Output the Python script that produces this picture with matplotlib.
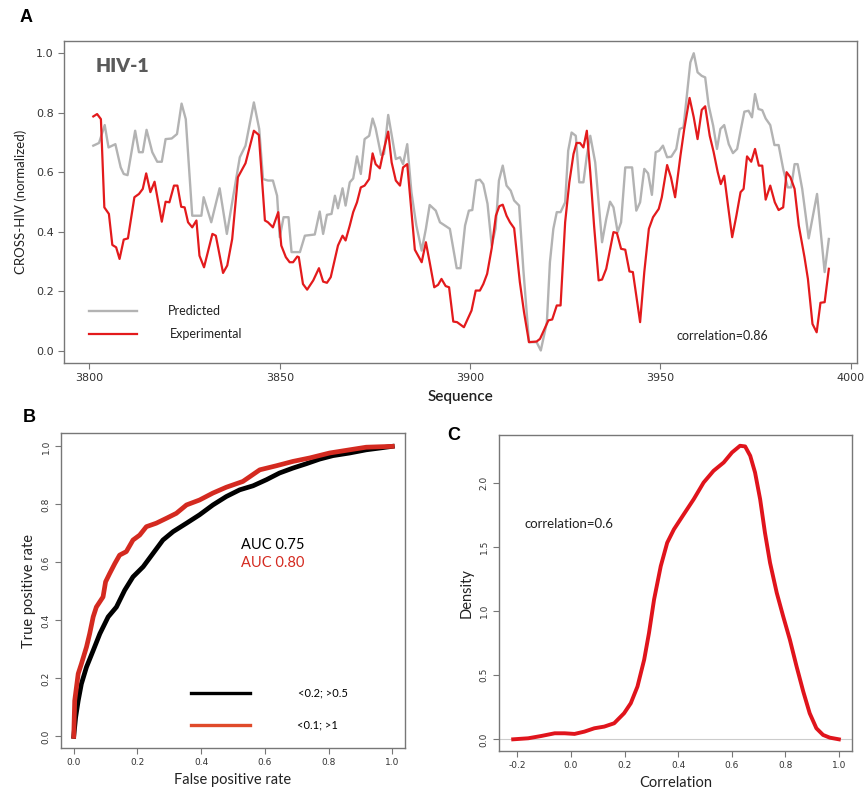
import numpy as np
import matplotlib
matplotlib.use("Agg")
import matplotlib.pyplot as plt

# ---- panel A: CROSS-HIV profile (vertices)
pred_x = [3801, 3802.5, 3804, 3805, 3806.8, 3808.2, 3809, 3810, 3812, 3813, 3814, 3815, 3816.5, 3817.8,
          3819, 3820, 3821.6, 3823, 3824.2, 3825.3, 3827, 3829.4, 3830, 3832, 3834.2, 3836.1, 3839.5,
          3841, 3843.2, 3844.6, 3845.6, 3846.9, 3848.2, 3849.3, 3850, 3851, 3852.3, 3853.1, 3855.3,
          3856.6, 3859.2, 3860.5, 3861.4, 3862.4, 3863.6, 3864.5, 3865.3, 3866.5, 3867.3, 3868.4,
          3869.3, 3870.3, 3871.3, 3872.3, 3873.5, 3874.4, 3875.2, 3876.6, 3877.4, 3878.5, 3879.4,
          3880.5, 3881.6, 3882.4, 3883.5, 3884.6, 3885.9, 3887.3, 3888.4, 3889.4, 3891, 3892.1,
          3893.4, 3894.7, 3896.5, 3897.5, 3898.7, 3899.7, 3900.6, 3901.6, 3902.6, 3903.5, 3904.6,
          3905.7, 3906.7, 3907.6, 3908.6, 3909.6, 3910.7, 3911.6, 3912.9, 3914, 3915.5, 3917.5,
          3918.6, 3920.2, 3921, 3921.9, 3922.8, 3923.8, 3925, 3925.8, 3926.7, 3927.8, 3928.7,
          3929.8, 3930.7, 3931.6, 3932.9, 3934.7, 3935.8, 3936.8, 3937.7, 3938.8, 3939.7, 3940.8,
          3942.6, 3943.7, 3944.7, 3945.8, 3946.8, 3947.8, 3948.8, 3949.7, 3950.7, 3951.8, 3952.9,
          3954.2, 3955.1, 3956.1, 3957.2, 3957.9, 3958.8, 3959.8, 3960.9, 3961.8, 3962.7, 3963.9,
          3964.9, 3965.8, 3966.8, 3968, 3969.1, 3970.2, 3971.2, 3972.1, 3973.2, 3974.1, 3974.9,
          3975.8, 3976.8, 3977.7, 3978.9, 3980, 3981.1, 3982.3, 3983.5, 3984.4, 3985.3, 3986.1,
          3987.3, 3989, 3991.2, 3993.2, 3994.3]
pred_y = [0.689, 0.698, 0.758, 0.683, 0.694, 0.616, 0.594, 0.59, 0.739, 0.667, 0.667, 0.742, 0.667, 0.635,
          0.635, 0.711, 0.713, 0.728, 0.830, 0.778, 0.454, 0.454, 0.516, 0.432, 0.546, 0.393, 0.650,
          0.689, 0.834, 0.745, 0.577, 0.572, 0.572, 0.521, 0.382, 0.449, 0.449, 0.332, 0.332,
          0.387, 0.391, 0.468, 0.393, 0.457, 0.46, 0.521, 0.479, 0.546, 0.488, 0.566,
          0.579, 0.653, 0.594, 0.711, 0.722, 0.780, 0.747, 0.658, 0.661, 0.792, 0.725,
          0.644, 0.650, 0.627, 0.694, 0.533, 0.421, 0.337, 0.410, 0.490, 0.471, 0.432,
          0.421, 0.410, 0.278, 0.278, 0.421, 0.471, 0.473, 0.572, 0.575, 0.560, 0.494,
          0.354, 0.410, 0.572, 0.622, 0.555, 0.538, 0.505, 0.488, 0.276, 0.030, 0.030,
          0.002, 0.097, 0.298, 0.410, 0.466, 0.466, 0.499, 0.672, 0.733, 0.722, 0.566,
          0.566, 0.655, 0.722, 0.633, 0.365, 0.443, 0.501, 0.482, 0.399, 0.432, 0.616,
          0.616, 0.471, 0.499, 0.611, 0.596, 0.524, 0.667, 0.672, 0.689, 0.650, 0.652,
          0.678, 0.745, 0.750, 0.884, 0.968, 0.999, 0.935, 0.923, 0.918, 0.825, 0.756,
          0.678, 0.745, 0.758, 0.694, 0.664, 0.678, 0.745, 0.803, 0.806, 0.784, 0.862,
          0.812, 0.808, 0.780, 0.758, 0.691, 0.691, 0.611, 0.549, 0.549, 0.627, 0.627,
          0.544, 0.378, 0.527, 0.265, 0.376]

exp_x = [3801, 3802, 3803, 3803.9, 3805.1, 3806, 3807, 3807.9, 3809, 3810.1, 3811.8, 3813, 3814, 3814.9,
         3816, 3817.1, 3819, 3820, 3821, 3822.2, 3823.1, 3824.1, 3825, 3825.9, 3827, 3828.1, 3828.9,
         3830.1, 3832.3, 3833.2, 3835.1, 3836.2, 3837.5, 3839, 3841, 3843.2, 3844.5, 3846.1, 3846.9,
         3848.2, 3849.6, 3850.4, 3851.6, 3852.6, 3853.5, 3854.6, 3855, 3856.1, 3857.2, 3858.8,
         3860.3, 3861.4, 3862.4, 3863.4, 3864.4, 3865.3, 3866.5, 3867.3, 3868.4, 3869.3, 3870.3,
         3871.3, 3872.3, 3873.5, 3874.4, 3875.2, 3876.3, 3877.2, 3878.5, 3879.4, 3880.5, 3881.6,
         3882.4, 3883.5, 3885.5, 3887.3, 3888.4, 3889.4, 3890.6, 3891.6, 3892.5, 3893.6, 3894.5,
         3895.6, 3896.6, 3898.4, 3900.4, 3901.5, 3902.6, 3903.5, 3904.5, 3905.7, 3906.8, 3907.7,
         3908.6, 3909.6, 3910.5, 3911.6, 3913.1, 3914.2, 3915.5, 3917.5, 3918.4, 3919.4, 3920.6,
         3921.6, 3922.8, 3923.8, 3925, 3926.1, 3927.2, 3928, 3928.9, 3929.8, 3930.7, 3931.6,
         3932.6, 3933.8, 3934.7, 3935.8, 3937.7, 3938.6, 3939.7, 3940.8, 3941.9, 3942.8, 3944.7,
         3945.8, 3947, 3948.1, 3949.6, 3950.4, 3951.8, 3952.8, 3953.9, 3955.3, 3956.3, 3957.7,
         3958.8, 3959.8, 3960.9, 3961.8, 3963, 3964, 3965.1, 3965.9, 3966.8, 3967.8, 3968.9,
         3970, 3971.1, 3971.9, 3972.8, 3973.9, 3974.9, 3975.9, 3976.8, 3977.7, 3978.9, 3980.1,
         3981.1, 3982.3, 3983.2, 3984.2, 3985.3, 3986.4, 3987.9, 3988.8, 3990, 3991.1, 3992.1,
         3993.2, 3994.3]
exp_y = [0.787, 0.795, 0.778, 0.482, 0.46, 0.356, 0.348, 0.309, 0.374, 0.378, 0.516, 0.527, 0.544, 0.596,
         0.533, 0.568, 0.434, 0.501, 0.499, 0.555, 0.555, 0.484, 0.482, 0.432, 0.415, 0.438, 0.320,
         0.281, 0.393, 0.387, 0.262, 0.287, 0.376, 0.583, 0.630, 0.739, 0.725, 0.438, 0.432,
         0.415, 0.466, 0.354, 0.315, 0.298, 0.298, 0.317, 0.315, 0.225, 0.206, 0.237,
         0.278, 0.233, 0.229, 0.248, 0.304, 0.354, 0.387, 0.371, 0.421, 0.466, 0.499,
         0.549, 0.555, 0.577, 0.663, 0.627, 0.613, 0.667, 0.736, 0.633, 0.572, 0.555,
         0.616, 0.627, 0.340, 0.298, 0.365, 0.298, 0.214, 0.222, 0.242, 0.218, 0.214,
         0.099, 0.097, 0.080, 0.136, 0.203, 0.203, 0.225, 0.259, 0.345, 0.454, 0.486,
         0.491, 0.454, 0.432, 0.412, 0.231, 0.130, 0.030, 0.032, 0.041, 0.069, 0.103,
         0.106, 0.153, 0.153, 0.432, 0.566, 0.661, 0.698, 0.698, 0.683, 0.739, 0.600,
         0.421, 0.237, 0.240, 0.276, 0.399, 0.396, 0.343, 0.340, 0.267, 0.265, 0.097,
         0.265, 0.410, 0.449, 0.477, 0.516, 0.624, 0.583, 0.516, 0.655, 0.745, 0.849,
         0.784, 0.711, 0.809, 0.821, 0.722, 0.669, 0.600, 0.560, 0.588, 0.488, 0.382,
         0.454, 0.533, 0.544, 0.653, 0.635, 0.678, 0.622, 0.622, 0.508, 0.555, 0.499,
         0.473, 0.482, 0.600, 0.583, 0.544, 0.421, 0.315, 0.242, 0.091, 0.063, 0.162,
         0.164, 0.276]

# ---- panel B: ROC curves
roc1_fpr = [0, 0.006, 0.014, 0.024, 0.040, 0.061, 0.082, 0.108, 0.134, 0.160, 0.186, 0.218, 0.249, 0.280,
            0.312, 0.354, 0.395, 0.437, 0.479, 0.521, 0.563, 0.605, 0.646, 0.688, 0.730, 0.772, 0.814,
            0.866, 0.918, 0.960, 1.0]
roc1_tpr = [0, 0.066, 0.123, 0.181, 0.239, 0.296, 0.354, 0.412, 0.446, 0.504, 0.550, 0.585, 0.631, 0.677,
            0.706, 0.735, 0.764, 0.798, 0.827, 0.850, 0.864, 0.885, 0.908, 0.925, 0.940, 0.956, 0.968,
            0.977, 0.988, 0.994, 1.0]
roc2_fpr = [0, 0.003, 0.014, 0.024, 0.040, 0.050, 0.061, 0.071, 0.092, 0.100, 0.113, 0.129, 0.144, 0.165,
            0.186, 0.207, 0.228, 0.259, 0.291, 0.322, 0.354, 0.395, 0.437, 0.479, 0.531, 0.584, 0.636,
            0.688, 0.741, 0.803, 0.866, 0.918, 1.0]
roc2_tpr = [0, 0.123, 0.216, 0.250, 0.308, 0.354, 0.412, 0.446, 0.481, 0.533, 0.562, 0.596, 0.625, 0.637,
            0.677, 0.694, 0.723, 0.735, 0.752, 0.769, 0.798, 0.815, 0.839, 0.859, 0.879, 0.919, 0.933,
            0.948, 0.960, 0.977, 0.988, 0.997, 1.0]
roc_labels = ["<0.2; >0.5", "<0.1; >1"]
auc_labels = ["AUC 0.75", "AUC 0.80"]

# ---- panel C: density of correlations
dens_x = [-0.216, -0.160, -0.111, -0.061, -0.024, 0.013, 0.05, 0.087, 0.124, 0.161, 0.198, 0.223, 0.248,
          0.273, 0.291, 0.310, 0.335, 0.359, 0.384, 0.421, 0.458, 0.495, 0.532, 0.570, 0.601, 0.631,
          0.650, 0.669, 0.687, 0.706, 0.724, 0.743, 0.768, 0.792, 0.817, 0.842, 0.867, 0.891, 0.916,
          0.941, 0.966, 1.0]
dens_y = [0, 0.008, 0.026, 0.047, 0.047, 0.042, 0.06, 0.086, 0.099, 0.125, 0.203, 0.281, 0.411,
          0.620, 0.828, 1.089, 1.349, 1.531, 1.635, 1.753, 1.870, 2.0, 2.091, 2.156, 2.234, 2.286,
          2.281, 2.208, 2.078, 1.870, 1.609, 1.375, 1.141, 0.958, 0.776, 0.568, 0.372, 0.203, 0.086,
          0.034, 0.013, 0]

GREY = "#b3b3b3"
RED = "#e31a1c"
FRAME = "#777777"
TXT = ["Lato", "DejaVu Sans"]

W, H = 867, 799
fig = plt.figure(figsize=(W / 100, H / 100), dpi=100)


def box(l, t, r, b):
    return [l / W, 1 - b / H, (r - l) / W, (b - t) / H]


def style(ax, size):
    for s in ax.spines.values():
        s.set_color(FRAME)
        s.set_linewidth(1.0)
    ax.tick_params(direction="out", length=4, width=0.8, colors=FRAME, labelsize=size,
                   labelcolor="#333333")


# panel A
axA = fig.add_axes(box(64, 41, 857, 363))
axA.plot(pred_x, pred_y, color=GREY, lw=1.7, label="Predicted")
axA.plot(exp_x, exp_y, color=RED, lw=1.6, label="Experimental")
axA.set_xlim(3793.3, 4001.7)
axA.set_ylim(-0.04, 1.04)
axA.set_xticks(np.arange(3800, 4001, 50))
axA.set_yticks(np.arange(0, 1.01, 0.2))
axA.set_yticklabels(["0.0", "0.2", "0.4", "0.6", "0.8", "1.0"])
style(axA, 8)
axA.set_xlabel("Sequence", family=TXT, fontsize=11, fontweight="semibold", color="#222222", labelpad=5)
axA.set_ylabel("CROSS-HIV (normalized)", family=TXT, fontsize=9.5, color="#222222", labelpad=6)
axA.text(3801.5, 0.955, "HIV-1", family=TXT, fontsize=14, fontweight="heavy", color="#5a5a5a",
         va="center")
axA.plot([3800, 3812.5], [0.133, 0.133], color=GREY, lw=1.7)
axA.plot([3800, 3812.5], [0.058, 0.058], color=RED, lw=1.6)
axA.text(3820.5, 0.133, "Predicted", family=TXT, fontsize=9, va="center", color="#222222")
axA.text(3821, 0.058, "Experimental", family=TXT, fontsize=9, va="center", color="#222222")
axA.text(3966.4, 0.052, "correlation=0.86", family=TXT, fontsize=9, va="center", ha="center",
         color="#222222")

# panel B
axB = fig.add_axes(box(61, 433, 405, 748))
axB.plot(roc1_fpr, roc1_tpr, color="black", lw=3.4)
axB.plot(roc2_fpr, roc2_tpr, color="#d42a20", lw=3.4)
axB.set_xlim(-0.04, 1.04)
axB.set_ylim(-0.04, 1.046)
axB.set_xticks(np.arange(0, 1.01, 0.2))
axB.set_yticks(np.arange(0, 1.01, 0.2))
axB.set_xticklabels(["0.0", "0.2", "0.4", "0.6", "0.8", "1.0"])
axB.set_yticklabels(["0.0", "0.2", "0.4", "0.6", "0.8", "1.0"], rotation=90, va="center")
style(axB, 6.5)
axB.set_xlabel("False positive rate", family=TXT, fontsize=10.5, color="#222222")
axB.set_ylabel("True positive rate", family=TXT, fontsize=10.5, color="#222222")
axB.plot([0.369, 0.552], [0.150, 0.150], color="black", lw=2.4)
axB.plot([0.369, 0.552], [0.039, 0.039], color="#e04a2a", lw=2.4)
axB.text(0.704, 0.150, roc_labels[0], family=TXT, fontsize=8, va="center")
axB.text(0.700, 0.039, roc_labels[1], family=TXT, fontsize=8, va="center")
axB.text(0.526, 0.66, auc_labels[0], family=TXT, fontsize=10.5, va="center", color="black")
axB.text(0.526, 0.599, auc_labels[1], family=TXT, fontsize=10.5, va="center", color="#d42a20")

# panel C
axC = fig.add_axes(box(499, 435, 852, 751))
axC.axhline(0, color="#cccccc", lw=0.8)
axC.plot(dens_x, dens_y, color="#e0141c", lw=2.8)
axC.set_xlim(-0.269, 1.049)
axC.set_ylim(-0.091, 2.37)
axC.set_xticks(np.arange(-0.2, 1.01, 0.2))
axC.set_xticklabels(["-0.2", "0.0", "0.2", "0.4", "0.6", "0.8", "1.0"])
axC.set_yticks(np.arange(0, 2.01, 0.5))
axC.set_yticklabels(["0.0", "0.5", "1.0", "1.5", "2.0"], rotation=90, va="center")
style(axC, 6.5)
axC.set_xlabel("Correlation", family=TXT, fontsize=10.5, color="#222222")
axC.set_ylabel("Density", family=TXT, fontsize=10.5, color="#222222")
axC.text(-0.173, 1.674, "correlation=0.6", family=TXT, fontsize=9.5, va="center", color="#222222")

# panel letters
fig.text(20 / W, 1 - 18 / H, "A", fontsize=13, fontweight="bold", va="center", family="Liberation Sans")
fig.text(23 / W, 1 - 418 / H, "B", fontsize=13, fontweight="bold", va="center", family="Liberation Sans")
fig.text(447 / W, 1 - 435 / H, "C", fontsize=13, fontweight="bold", va="center", family="Liberation Sans")

fig.savefig("out.png", dpi=100)
